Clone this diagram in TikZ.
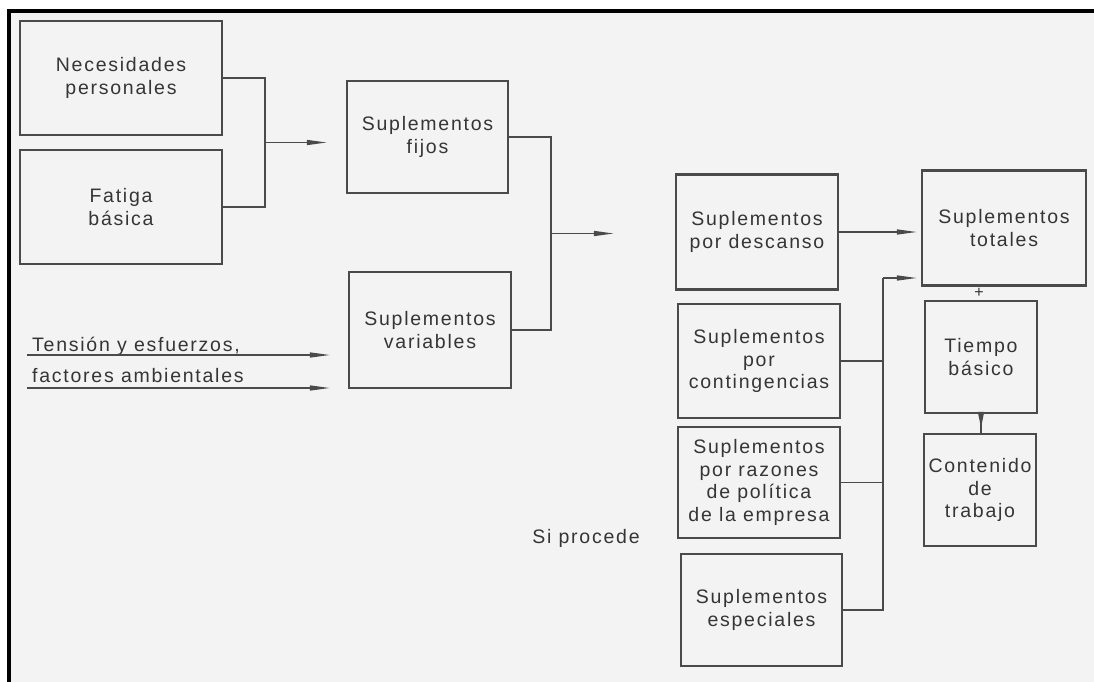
\documentclass[tikz,border=0pt]{standalone}
\usepackage{fontspec}
\setmainfont{Liberation Sans}[LetterSpace=9]
\usetikzlibrary{arrows.meta,calc}

\definecolor{paper}{HTML}{F3F3F3}
\definecolor{ink}{HTML}{353535}
\definecolor{rule}{HTML}{4A4A4A}

\tikzset{
  box/.style={draw=rule, line width=2.2pt, inner sep=0pt, align=center,
              text=ink, font=\fontsize{19.5}{22.5}\selectfont},
  lbl/.style={inner sep=0pt, text=ink, font=\fontsize{19.5}{22.5}\selectfont},
  wire/.style={draw=rule, line width=1.4pt},
  arr/.style={wire, -{Triangle[length=20pt,width=5pt]}},
}

\begin{document}
\begin{tikzpicture}[x=1pt,y=-1pt]
\useasboundingbox (0,0) rectangle (1094,682);

% page and frame
\fill[white] (0,0) rectangle (1094,682);
\fill[paper] (9,11) rectangle (1094,682);
\draw[black, line width=3.5pt] (9,682) -- (9,11) -- (1094,11);

% left column
\node[box, minimum width=202pt, minimum height=114pt] (nec) at (121,78)  {Necesidades\\personales};
\node[box, minimum width=202pt, minimum height=114pt] (fat) at (121,207) {Fatiga\\básica};

% second column
\node[box, minimum width=161pt, minimum height=112pt] (fij) at (427.5,137) {Suplementos\\fijos};
\node[box, minimum width=162pt, minimum height=116pt] (var) at (430,330)   {Suplementos\\variables};

% third column
\node[box, minimum width=162pt, minimum height=115pt] (des) at (757,232)   {Suplementos\\por descanso};
\node[box, minimum width=162pt, minimum height=114pt] (con) at (759,361)   {Suplementos\\por\\contingencias};
\node[box, minimum width=162pt, minimum height=111pt] (raz) at (759,482.5) {Suplementos\\por razones\\de política\\de la empresa};
\node[box, minimum width=161pt, minimum height=112pt] (esp) at (761.5,610) {Suplementos\\especiales};

% right column
\node[box, minimum width=164pt, minimum height=115pt] (tot) at (1004,228) {Suplementos\\totales};
\node[box, minimum width=112pt, minimum height=112pt] (tie) at (981,357)  {Tiempo\\básico};
\node[box, minimum width=112pt, minimum height=112pt] (cnt) at (980,490)  {Contenido\\de\\trabajo};
\node[lbl, font=\fontsize{16}{16}\selectfont] (plus) at (979,293) {+};

% free labels
\node[lbl, anchor=west] (ten) at (32,346) {Tensión y esfuerzos,};
\node[lbl, anchor=west] (fac) at (32,376) {factores ambientales};
\node[lbl] (sip) at (586,538) {Si procede};

% personal needs and basic fatigue join into fixed allowances
\coordinate (bx1) at (265,0);
\coordinate (m1) at ($(nec.east)!0.5!(fat.east)$);
\draw[wire] (nec.east) -| (bx1 |- fat.east) -- (fat.east);
\draw[arr, shorten >=19pt] (bx1 |- m1) -- (m1 -| fij.west);

% underlined inputs to variable allowances
\coordinate (u1) at (27,355);
\coordinate (u2) at (27,388);
\draw[arr, shorten >=18pt] (u1) -- (u1 -| var.west);
\draw[arr, shorten >=18pt] (u2) -- (u2 -| var.west);

% fixed and variable join into rest allowances
\coordinate (bx2) at (551,0);
\coordinate (m2) at ($(fij.east)!0.5!(var.east)$);
\draw[wire] (fij.east) -| (bx2 |- var.east) -- (var.east);
\draw[arr, shorten >=61pt] (bx2 |- m2) -- (m2 -| des.west);

% rest allowances to total allowances
\draw[arr, shorten >=4pt] (des.east) -- (des.east -| tot.west);

% bus collecting the remaining allowances
\coordinate (bus) at (883,278);
\draw[arr, shorten >=4pt] (bus) -- (bus -| tot.west);
\draw[wire] (con.east) -- (con.east -| bus);
\draw[wire] (raz.east) -- (raz.east -| bus);
\draw[wire] (esp.east) -| (bus);

% basic time to work content
\draw[wire] (tie.south) -- (tie.south |- cnt.north);
\draw[wire, -{Triangle[length=16pt,width=6pt]}, shorten >=5pt] (tie.south) -- (tie.south |- cnt.north);
\end{tikzpicture}
\end{document}
